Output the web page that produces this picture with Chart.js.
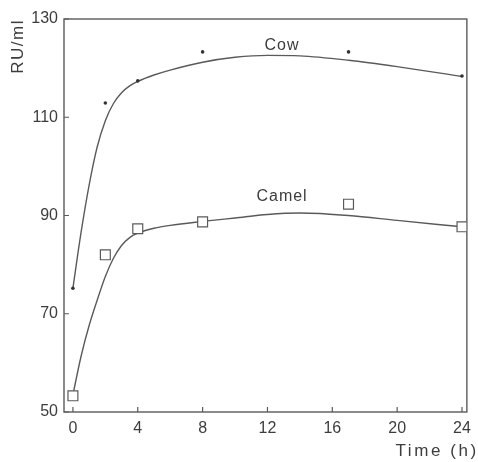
<!DOCTYPE html>
<html>
<head>
<meta charset="utf-8">
<script src="https://cdn.jsdelivr.net/npm/chart.js@4/dist/chart.umd.min.js"></script>
<style>
html,body{margin:0;padding:0;background:#ffffff;}
#wrap{width:478px;height:462px;position:relative;}
</style>
</head>
<body>
<div id="wrap"><canvas id="c" width="478" height="462"></canvas></div>
<script>
// ---- data ----
const sampleTimes = [0, 2, 4, 8, 17, 24];
const cowValues = [75.2, 112.9, 117.4, 123.3, 123.3, 118.4];
const camelValues = [53.3, 82.0, 87.3, 88.7, 92.3, 87.7];

// fitted curves
const cowCurveTimes = [0, 0.5, 1, 1.5, 2, 2.5, 3, 3.5, 4, 5, 6, 8, 10, 12, 14, 17, 20, 24];
const cowCurveValues = [75.2, 86.5, 96.2, 104.0, 109.3, 112.8, 115.0, 116.4, 117.3, 118.6, 119.6, 121.2, 122.2, 122.6, 122.5, 121.6, 120.3, 118.3];
const camelCurveTimes = [0, 0.5, 1, 1.5, 2, 2.5, 3, 3.5, 4, 5, 6, 8, 10, 12, 14, 17, 20, 24];
const camelCurveValues = [53.5, 61.3, 67.6, 72.8, 77.6, 81.3, 83.9, 85.5, 86.4, 87.4, 88.0, 88.8, 89.5, 90.2, 90.5, 90.0, 89.0, 87.7];

const xTickValues = [0, 4, 8, 12, 16, 20, 24];
const yTickValues = [50, 70, 90, 110, 130];
const seriesNames = ['Cow', 'Camel'];
const xTitle = 'Time (h)';
const yTitle = 'RU/ml';

const toPoints = (xs, ys) => xs.map((x, i) => ({x: x, y: ys[i]}));

const INK = '#3d3d3d';
const LINE = '#5a5a5a';
const FONT = '"Liberation Sans", Arial, Helvetica, sans-serif';

const framePlugin = {
  id: 'frame',
  beforeInit(chart) {
    chart.ctx.letterSpacing = '1px';
  },
  afterLayout(chart) {
    const spacing = {x: '2.6px', y: '1.5px'};
    const shift = {x: [12, 0], y: [0, 0]};
    ['x', 'y'].forEach(id => {
      const sc = chart.scales[id];
      if (sc && !sc._patchedTitle) {
        const orig = sc.drawTitle.bind(sc);
        sc.drawTitle = function () {
          const ctx = this.ctx;
          ctx.save();
          ctx.letterSpacing = spacing[id];
          ctx.translate(shift[id][0], shift[id][1]);
          orig();
          ctx.restore();
        };
        sc._patchedTitle = true;
      }
    });
  },
  beforeDatasetsDraw(chart) {
    const {ctx, chartArea: a, scales: {x, y}} = chart;
    ctx.save();
    ctx.strokeStyle = LINE;
    ctx.lineWidth = 1.4;
    ctx.strokeRect(a.left, a.top, a.right - a.left, a.bottom - a.top);
    ctx.beginPath();
    const tl = 5;
    x.ticks.forEach(t => {
      const px = x.getPixelForValue(t.value);
      ctx.moveTo(px, a.bottom);
      ctx.lineTo(px, a.bottom - tl);
    });
    y.ticks.forEach(t => {
      const py = y.getPixelForValue(t.value);
      ctx.moveTo(a.left, py);
      ctx.lineTo(a.left + tl, py);
    });
    ctx.lineWidth = 1.2;
    ctx.stroke();
    ctx.restore();
  },
  afterDatasetsDraw(chart, args, opts) {
    const {ctx, scales: {x, y}} = chart;
    ctx.save();
    ctx.fillStyle = INK;
    ctx.font = '16px ' + FONT;
    ctx.letterSpacing = '1px';
    ctx.textAlign = 'center';
    ctx.textBaseline = 'middle';
    (opts.labels || []).forEach(l => {
      ctx.fillText(l.text, x.getPixelForValue(l.x), y.getPixelForValue(l.y));
    });
    ctx.restore();
  }
};

new Chart(document.getElementById('c'), {
  type: 'scatter',
  data: {
    datasets: [
      {
        label: seriesNames[0] + ' fit',
        data: toPoints(cowCurveTimes, cowCurveValues),
        showLine: true,
        borderColor: LINE,
        borderWidth: 1.4,
        pointRadius: 0,
        cubicInterpolationMode: 'monotone',
        fill: false,
        order: 3
      },
      {
        label: seriesNames[1] + ' fit',
        data: toPoints(camelCurveTimes, camelCurveValues),
        showLine: true,
        borderColor: LINE,
        borderWidth: 1.4,
        pointRadius: 0,
        cubicInterpolationMode: 'monotone',
        fill: false,
        order: 3
      },
      {
        label: seriesNames[0],
        data: toPoints(sampleTimes, cowValues),
        showLine: false,
        pointStyle: 'circle',
        pointRadius: 1.8,
        pointBackgroundColor: '#333',
        pointBorderColor: '#333',
        pointBorderWidth: 0,
        order: 1
      },
      {
        label: seriesNames[1],
        data: toPoints(sampleTimes, camelValues),
        showLine: false,
        pointStyle: 'rect',
        pointRadius: 7,
        pointBackgroundColor: '#ffffff',
        pointBorderColor: LINE,
        pointBorderWidth: 1.2,
        order: 1
      }
    ]
  },
  options: {
    responsive: false,
    devicePixelRatio: 1,
    animation: false,
    events: [],
    layout: {padding: {top: 19, right: 6, left: 0, bottom: 0}},
    plugins: {
      legend: {display: false},
      tooltip: {enabled: false},
      frame: {
        labels: [
          {text: seriesNames[0], x: 12.9, y: 124.6},
          {text: seriesNames[1], x: 12.9, y: 93.9}
        ]
      }
    },
    scales: {
      x: {
        type: 'linear',
        min: -0.55,
        max: 24.3,
        afterBuildTicks: sc => { sc.ticks = xTickValues.map(v => ({value: v})); },
        afterFit: sc => { sc.height = 50; },
        grid: {display: false, drawTicks: false},
        border: {display: false},
        ticks: {
          padding: 7,
          color: INK,
          font: {family: FONT, size: 16},
          maxRotation: 0,
          autoSkip: false
        },
        title: {
          display: true,
          text: xTitle,
          align: 'end',
          color: INK,
          font: {family: FONT, size: 17},
          padding: {top: 0, bottom: 0}
        }
      },
      y: {
        type: 'linear',
        min: 50,
        max: 130,
        afterBuildTicks: sc => { sc.ticks = yTickValues.map(v => ({value: v})); },
        afterFit: sc => { sc.width = 64; },
        grid: {display: false, drawTicks: false},
        border: {display: false},
        ticks: {
          padding: 6,
          color: INK,
          font: {family: FONT, size: 16},
          autoSkip: false
        },
        title: {
          display: true,
          text: yTitle,
          align: 'end',
          color: INK,
          font: {family: FONT, size: 17},
          padding: {top: 8, bottom: 0}
        }
      }
    }
  },
  plugins: [framePlugin]
});
</script>
</body>
</html>
